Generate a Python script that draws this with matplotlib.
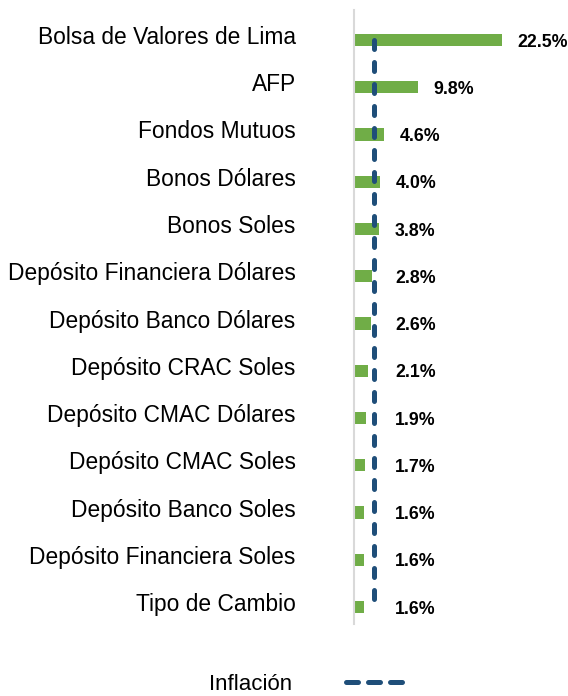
import matplotlib
matplotlib.use("Agg")
import matplotlib.pyplot as plt
from matplotlib.lines import Line2D
from matplotlib.transforms import ScaledTranslation

categories = ["Bolsa de Valores de Lima", "AFP", "Fondos Mutuos", "Bonos Dólares",
              "Bonos Soles", "Depósito Financiera Dólares", "Depósito Banco Dólares",
              "Depósito CRAC Soles", "Depósito CMAC Dólares", "Depósito CMAC Soles",
              "Depósito Banco Soles", "Depósito Financiera Soles", "Tipo de Cambio"]
values = [22.5, 9.8, 4.6, 4.0, 3.8, 2.8, 2.6, 2.1, 1.9, 1.7, 1.6, 1.6, 1.6]
value_labels = ["22.5%", "9.8%", "4.6%", "4.0%", "3.8%", "2.8%", "2.6%", "2.1%",
                "1.9%", "1.7%", "1.6%", "1.6%", "1.6%"]
inflation = 3.1
legend_label = "Inflación"

plt.rcParams['font.family'] = ['Liberation Sans', 'DejaVu Sans']

W, H = 568, 696
fig = plt.figure(figsize=(W / 100, H / 100), dpi=100)
ax = fig.add_axes([354 / W, 1 - 624 / H, (W - 354) / W, (624 - 10) / H])

green = "#70AD47"
blue = "#1F4E79"

ypos = list(range(len(categories)))
ax.barh(ypos, values, height=0.26, color=green, zorder=2)

ax.plot([inflation] * 2, [ypos[0], ypos[-1]], color=blue, lw=3.6,
        linestyle=(0, (1.8, 2.6)), dash_capstyle='round', solid_capstyle='round',
        zorder=3)

for y, v, lab in zip(ypos, values, value_labels):
    off = 11 if v >= inflation else 15
    ax.annotate(lab, xy=(max(v, inflation), y), xytext=(off, -1.5),
                textcoords='offset points', ha='left', va='center',
                fontsize=12.8, fontweight='bold', color='black', annotation_clip=False)

ax.set_xlim(0, (W - 354) / 6.56)
ax.set_ylim(12 + 17 / 47.25, -30 / 47.25)
ax.set_yticks(ypos)
ax.set_yticklabels(categories, fontsize=16.4, color='#000000')
ax.tick_params(axis='y', length=0, pad=42)
shift = ScaledTranslation(0, 5 / 100, fig.dpi_scale_trans)
for t in ax.get_yticklabels():
    t.set_transform(t.get_transform() + shift)
ax.set_xticks([])
for s in ['top', 'right', 'bottom']:
    ax.spines[s].set_visible(False)
ax.spines['left'].set_color('#D9D9D9')
ax.spines['left'].set_linewidth(1.5)
ax.set_facecolor('none')

handle = Line2D([0], [0], color=blue, lw=3.6, linestyle=(0, (2.4, 2.0)),
                dash_capstyle='round')
fig.legend([handle], [legend_label], loc='center', bbox_to_anchor=(306 / W, 1 - 684 / H),
           frameon=False, markerfirst=False, fontsize=16, handlelength=2.55,
           handletextpad=2.4, borderpad=0)

fig.savefig("out.png", dpi=100)
